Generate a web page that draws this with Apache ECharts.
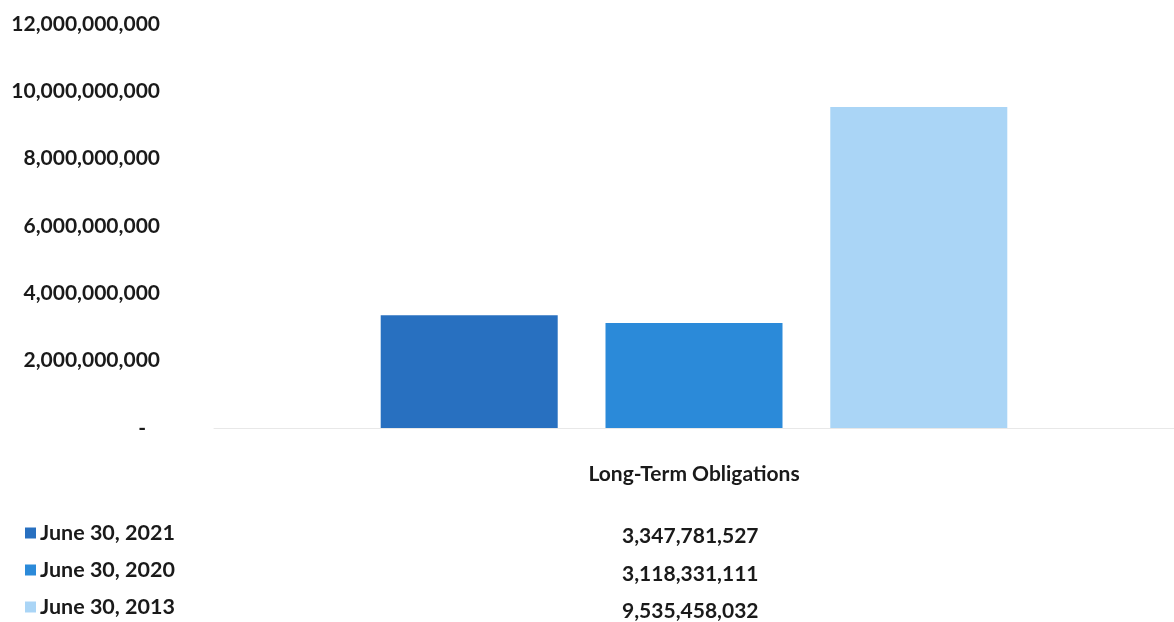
<!DOCTYPE html>
<html>
<head>
<meta charset="utf-8">
<title>Long-Term Obligations</title>
<script src="https://cdn.jsdelivr.net/npm/echarts@6/dist/echarts.min.js"></script>
<style>
  html, body { margin: 0; padding: 0; background: #ffffff; }
  #chart { width: 1174px; height: 622px; }
</style>
</head>
<body>
<div id="chart"></div>
<script>
// Category and series
const categories = ['Long-Term Obligations'];
const seriesNames = ['June 30, 2021', 'June 30, 2020', 'June 30, 2013'];
const values2021 = [3347781527];
const values2020 = [3118331111];
const values2013 = [9535458032];
const seriesValues = [values2021, values2020, values2013];
const seriesColors = ['#2870c0', '#2b8ad9', '#aad5f6'];

const FONT = 'Lato, "Open Sans", sans-serif';
const TEXT = '#1a1a1a';

const fmt = v => Number(v).toLocaleString('en-US');

const chart = echarts.init(document.getElementById('chart'), null, { renderer: 'canvas' });

// Data-table rows under the plot: one value per series
const tableRowY = [538, 576, 613];
const tableTexts = seriesValues.map((vals, i) => ({
  type: 'text',
  left: 692 - 70,
  top: tableRowY[i] - 12,
  style: {
    text: fmt(vals[0]),
    font: 'bold 21px ' + FONT,
    fill: TEXT,
    width: 140,
    align: 'center'
  }
}));

const option = {
  backgroundColor: '#ffffff',
  animation: false,
  grid: {
    left: 214,
    right: 0,
    top: 24,
    bottom: 194,
    outerBoundsMode: 'none'
  },
  xAxis: {
    type: 'category',
    data: categories,
    axisLine: { show: true, lineStyle: { color: '#e8e8e8', width: 1 } },
    axisTick: { show: false },
    axisLabel: {
      margin: 36,
      fontFamily: FONT,
      fontWeight: 'bold',
      fontSize: 21,
      color: TEXT
    }
  },
  yAxis: {
    type: 'value',
    min: 0,
    max: 12000000000,
    interval: 2000000000,
    splitLine: { show: false },
    axisLine: { show: false },
    axisTick: { show: false },
    axisLabel: {
      margin: 54,
      fontFamily: FONT,
      fontWeight: 'bold',
      fontSize: 21,
      color: TEXT,
      formatter: v => (v === 0 ? '{dash|-}' : fmt(v)),
      rich: {
        dash: {
          fontFamily: FONT,
          fontWeight: 'bold',
          fontSize: 21,
          color: TEXT,
          padding: [0, 14, 0, 0]
        }
      }
    }
  },
  legend: {
    orient: 'vertical',
    left: 25,
    top: 521,
    height: 101,
    padding: 0,
    itemWidth: 11,
    itemHeight: 11,
    itemGap: 13,
    icon: 'rect',
    data: seriesNames,
    textStyle: {
      fontFamily: FONT,
      fontWeight: 'bold',
      fontSize: 21.5,
      lineHeight: 24,
      color: TEXT,
      padding: [0, 0, 0, -1]
    }
  },
  series: seriesNames.map((name, i) => ({
    name: name,
    type: 'bar',
    data: seriesValues[i],
    barWidth: 177,
    barGap: '27%',
    itemStyle: { color: seriesColors[i] }
  })),
  graphic: tableTexts
};

chart.setOption(option);
</script>
</body>
</html>
